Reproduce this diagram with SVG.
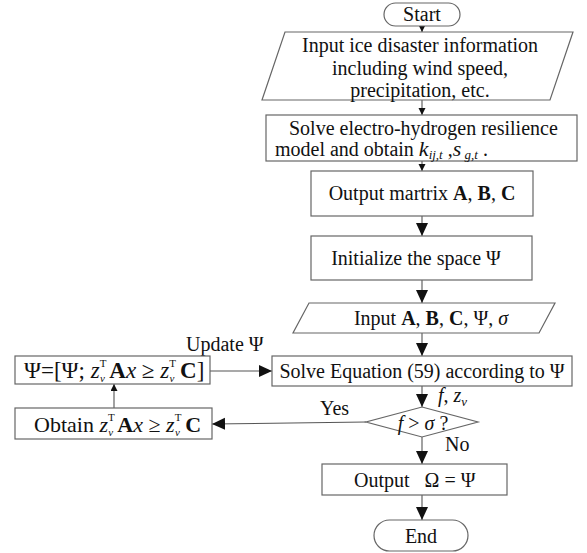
<svg xmlns="http://www.w3.org/2000/svg" width="587" height="553" viewBox="0 0 587 553">
<style>
.s{fill:#fff;stroke:#666;stroke-width:1.2}
.l{fill:none;stroke:#555;stroke-width:1.1}
text{font-family:"Liberation Serif","Times New Roman",serif;font-size:20px;fill:#111}
text.big{font-size:23px}
text.mid{font-size:22px}
.c{text-anchor:middle}
.i{font-style:italic}
.b{font-weight:bold}
.sm{font-size:13px}
.sp{font-size:11px}
</style>
<defs>
<marker id="big" markerUnits="userSpaceOnUse" markerWidth="14" markerHeight="14" refX="13" refY="6" orient="auto">
<path d="M0,0 L13,6 L0,12 Z" fill="#111"/>
</marker>
<marker id="sml" markerUnits="userSpaceOnUse" markerWidth="8" markerHeight="8" refX="7" refY="3.5" orient="auto">
<path d="M0,0 L7,3.5 L0,7 Z" fill="#111"/>
</marker>
</defs>
<g id="connectors">
<line class="l" x1="422" y1="26" x2="422" y2="32" marker-end="url(#sml)"/>
<line class="l" x1="422" y1="100" x2="422" y2="115" marker-end="url(#sml)"/>
<line class="l" x1="422" y1="161" x2="422" y2="171" marker-end="url(#sml)"/>
<line class="l" x1="422" y1="216" x2="422" y2="236" marker-end="url(#big)"/>
<line class="l" x1="422" y1="280" x2="422" y2="303" marker-end="url(#big)"/>
<line class="l" x1="422" y1="333" x2="422" y2="356" marker-end="url(#big)"/>
<line class="l" x1="422" y1="386" x2="422" y2="407" marker-end="url(#big)"/>
<line class="l" x1="422" y1="437" x2="422" y2="464" marker-end="url(#big)"/>
<line class="l" x1="422" y1="495" x2="422" y2="520" marker-end="url(#big)"/>
<line class="l" x1="210" y1="371" x2="272" y2="371" marker-end="url(#big)"/>
<line class="l" x1="366" y1="422" x2="212" y2="424" marker-end="url(#big)"/>
<line class="l" x1="114" y1="408" x2="114" y2="384" marker-end="url(#sml)"/>
<text x="186" y="351">Update Ψ</text>
<text x="320" y="415">Yes</text>
<text x="445" y="451">No</text>
<text x="438" y="402"><tspan class="i">f</tspan>, <tspan class="i">z</tspan><tspan class="i sm" dy="4">v</tspan></text>
</g>
<g id="start">
<rect class="s" x="384" y="3" width="76" height="23" rx="11.5"/>
<text class="c" x="422" y="21">Start</text>
</g>
<g id="input-ice">
<polygon class="s" points="285,32 573,32 550,100 262,100"/>
<text class="c" x="420" y="52">Input ice disaster information</text>
<text class="c" x="420" y="75">including wind speed,</text>
<text class="c" x="420" y="97">precipitation, etc.</text>
</g>
<g id="solve-model">
<rect class="s" x="266" y="115" width="311" height="46"/>
<text x="289" y="135">Solve electro-hydrogen resilience</text>
<text x="275" y="156">model and obtain <tspan class="i" font-size="22">k</tspan><tspan class="i sm" dy="3">ij,t</tspan><tspan dy="-3"> ,</tspan><tspan class="i" font-size="22">s</tspan><tspan class="i sm" dy="3"> g,t</tspan><tspan dy="-3"> .</tspan></text>
</g>
<g id="output-matrix">
<rect class="s" x="311" y="171" width="222" height="45"/>
<text class="c" x="422" y="200">Output martrix <tspan class="b">A</tspan>, <tspan class="b">B</tspan>, <tspan class="b">C</tspan></text>
</g>
<g id="init-space">
<rect class="s" x="311" y="236" width="221" height="44"/>
<text class="c" x="416" y="265">Initialize the space Ψ</text>
</g>
<g id="input-abc">
<polygon class="s" points="309,303 555,303 539,333 293,333"/>
<text class="c" x="431" y="325">Input <tspan class="b">A</tspan>, <tspan class="b">B</tspan>, <tspan class="b">C</tspan>, Ψ, <tspan class="i">σ</tspan></text>
</g>
<g id="solve-eq">
<rect class="s" x="272" y="356" width="300" height="30"/>
<text class="c" x="422" y="378">Solve Equation (59) according to Ψ</text>
</g>
<g id="decision">
<polygon class="s" points="422,407 478,422 422,437 366,422"/>
<text class="c" x="423" y="430"><tspan class="i">f</tspan> &gt; <tspan class="i">σ</tspan> ?</text>
</g>
<g id="update-psi">
<rect class="s" x="15" y="356" width="195" height="28"/>
<text class="big" x="24" y="378">Ψ=[Ψ; <tspan class="i">z</tspan><tspan class="sp" dy="-11">T</tspan><tspan class="i sp" dx="-6.5" dy="15">v</tspan><tspan class="b" dy="-4"> A</tspan><tspan class="i">x</tspan> ≥ <tspan class="i">z</tspan><tspan class="sp" dy="-11">T</tspan><tspan class="i sp" dx="-6.5" dy="15">v</tspan><tspan class="b" dy="-4"> C</tspan>]</text>
</g>
<g id="obtain">
<rect class="s" x="15" y="408" width="197" height="31"/>
<text class="mid" x="34" y="432">Obtain <tspan class="i">z</tspan><tspan class="sp" dy="-11">T</tspan><tspan class="i sp" dx="-6.5" dy="15">v</tspan><tspan class="b" dy="-4"> A</tspan><tspan class="i">x</tspan> ≥ <tspan class="i">z</tspan><tspan class="sp" dy="-11">T</tspan><tspan class="i sp" dx="-6.5" dy="15">v</tspan><tspan class="b" dy="-4"> C</tspan></text>
</g>
<g id="output-omega">
<rect class="s" x="322" y="464" width="185" height="31"/>
<text x="354" y="487">Output <tspan dx="10">Ω = Ψ</tspan></text>
</g>
<g id="end">
<rect class="s" x="374" y="520" width="94" height="31" rx="15.5"/>
<text class="c" x="421" y="543">End</text>
</g>
</svg>
